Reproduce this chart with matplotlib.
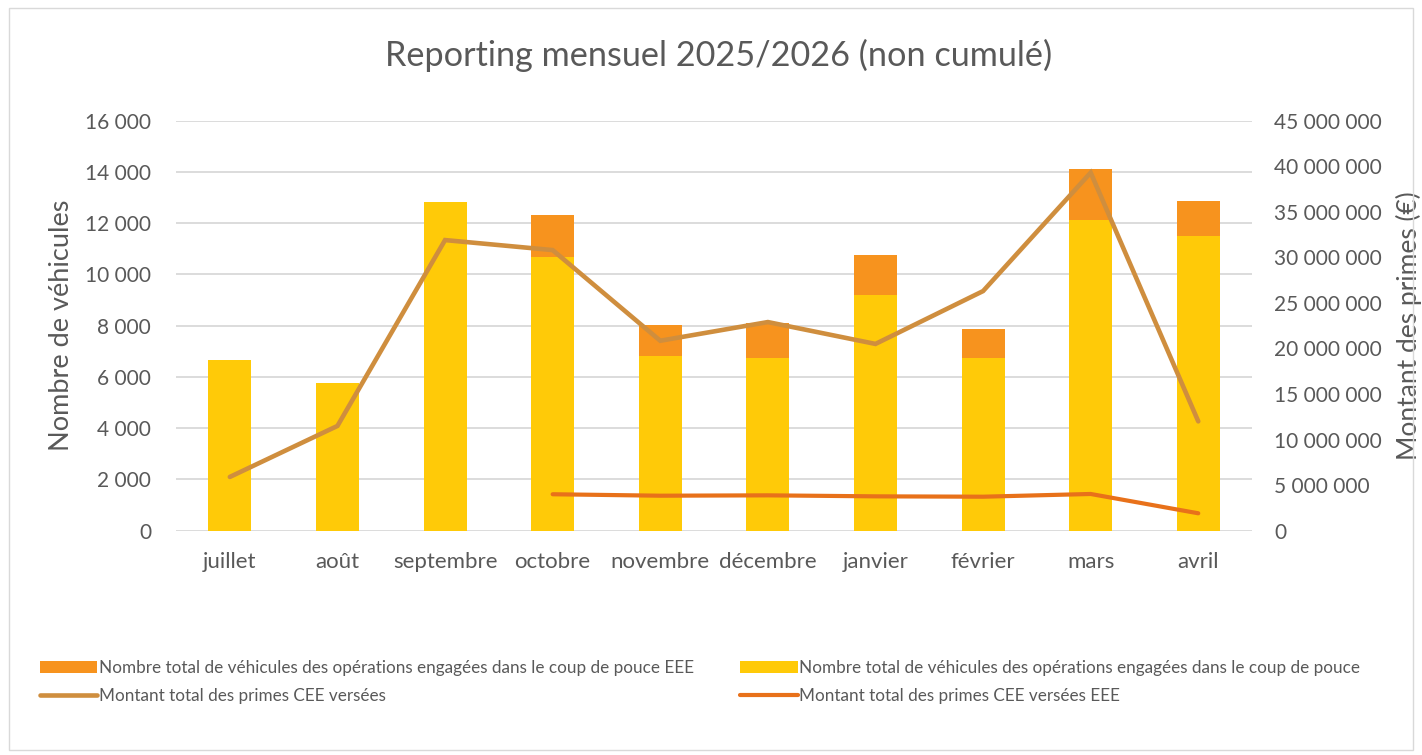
import numpy as np
import matplotlib.pyplot as plt
from matplotlib.ticker import FuncFormatter, MultipleLocator
from matplotlib.patches import Rectangle

# Data
months = ["juillet", "août", "septembre", "octobre", "novembre",
          "décembre", "janvier", "février", "mars", "avril"]
vehicules_total = [6650, 5760, 12840, 12320, 8030, 8100, 10760, 7870, 14110, 12860]
vehicules_base = [6650, 5760, 12840, 10690, 6820, 6740, 9180, 6740, 12140, 11500]
primes_total = [5.9e6, 11.5e6, 31.9e6, 30.8e6, 20.85e6, 22.9e6, 20.5e6, 26.3e6, 39.3e6, 12.0e6]
primes_eee = [np.nan, np.nan, np.nan, 4.0e6, 3.84e6, 3.88e6, 3.77e6, 3.73e6, 4.03e6, 1.91e6]

vehicules_eee = [t - b for t, b in zip(vehicules_total, vehicules_base)]

plt.rcParams['font.family'] = ['Lato', 'DejaVu Sans']
grey = "#595959"
yellow = "#FFCA08"
orange = "#F7931E"
tan = "#CF8E3E"
dark_orange = "#E8711A"


def fmt_space(v, pos):
    return f"{v:,.0f}".replace(",", " ")


fig = plt.figure(figsize=(14.22, 7.55), dpi=100)
fig.patches.append(Rectangle((0.006, 0.006), 0.988, 0.983, transform=fig.transFigure,
                             fill=False, edgecolor="#d9d9d9", linewidth=1))

ax = fig.add_axes([0.1238, 0.2971, 0.7567, 0.543])
x = np.arange(len(months))

b1 = ax.bar(x, vehicules_base, width=0.4, color=yellow, zorder=2)
b2 = ax.bar(x, vehicules_eee, width=0.4, bottom=vehicules_base, color=orange, zorder=2)

ax.set_xlim(-0.5, len(months) - 0.5)
ax.set_ylim(0, 16000)
ax.yaxis.set_major_locator(MultipleLocator(2000))
ax.yaxis.set_major_formatter(FuncFormatter(fmt_space))
ax.grid(axis="y", color="#d9d9d9", linewidth=1.3, zorder=0)
ax.set_axisbelow(True)
ax.set_xticks(x)
ax.set_xticklabels(months)
ax.tick_params(axis="y", length=0, labelsize=15, colors=grey, pad=18)
ax.tick_params(axis="x", length=0, labelsize=16, colors=grey, pad=15)
ax.set_ylabel("Nombre de véhicules", fontsize=19.5, color=grey)
ax.yaxis.set_label_coords(-0.095, 0.5)
for s in ax.spines.values():
    s.set_visible(False)

ax2 = ax.twinx()
ax2.set_ylim(0, 45e6)
ax2.yaxis.set_major_locator(MultipleLocator(5e6))
ax2.yaxis.set_major_formatter(FuncFormatter(fmt_space))
ax2.tick_params(axis="y", length=0, labelsize=15, colors=grey, pad=16)
ax2.set_ylabel("Montant des primes (€)", fontsize=19, color=grey)
ax2.yaxis.set_label_coords(1.134, 0.5)
for s in ax2.spines.values():
    s.set_visible(False)

l1, = ax2.plot(x, primes_total, color=tan, linewidth=3.3, solid_capstyle="round",
               solid_joinstyle="miter", zorder=3)
l2, = ax2.plot(x, primes_eee, color=dark_orange, linewidth=3.0, solid_capstyle="round",
               zorder=3)

fig.suptitle("Reporting mensuel 2025/2026 (non cumulé)", fontsize=24.7, color=grey,
             x=0.505, y=0.927, va="center")

fig.legend([b2, l1, b1, l2],
           ["Nombre total de véhicules des opérations engagées dans le coup de pouce EEE",
            "Montant total des primes CEE versées",
            "Nombre total de véhicules des opérations engagées dans le coup de pouce",
            "Montant total des primes CEE versées EEE"],
           ncol=2, loc="upper left", bbox_to_anchor=(0.0281, 0.126), frameon=False,
           borderpad=0, borderaxespad=0,
           fontsize=12.35, labelcolor=grey, handlelength=3.35, handletextpad=0.08,
           columnspacing=2.7, labelspacing=0.7)

fig.savefig("out.png", dpi=100)
